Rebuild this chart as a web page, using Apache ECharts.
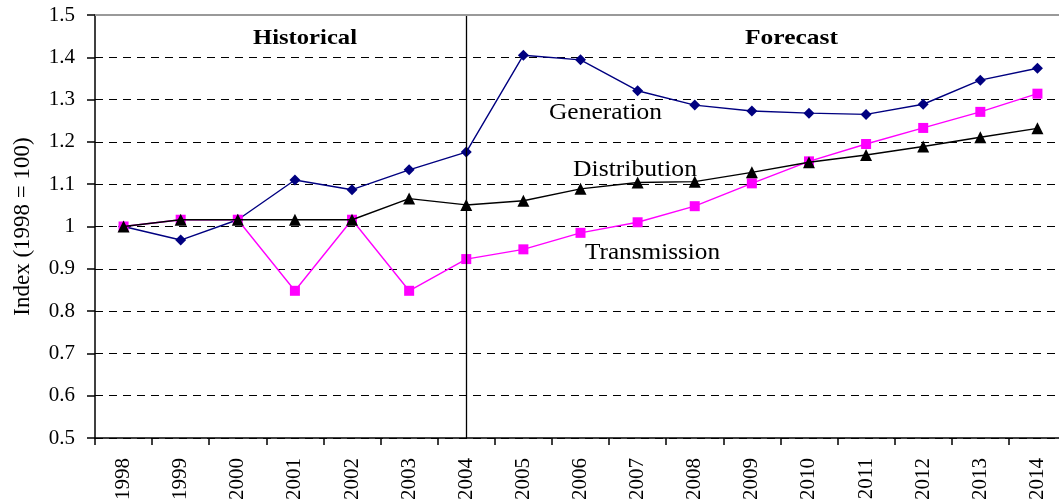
<!DOCTYPE html>
<html><head><meta charset="utf-8">
<script src="https://cdn.jsdelivr.net/npm/echarts@6/dist/echarts.min.js"></script>
<style>html,body{margin:0;padding:0;background:#fff}#c{width:1059px;height:504px}</style>
</head><body><div id="c"></div>
<script>
var years = ['1998','1999','2000','2001','2002','2003','2004','2005','2006','2007','2008','2009','2010','2011','2012','2013','2014'];
var generation   = [1.000,0.968,1.016,1.110,1.087,1.134,1.176,1.405,1.394,1.321,1.287,1.273,1.268,1.265,1.289,1.346,1.374];
var transmission = [1.000,1.016,1.016,0.848,1.016,0.848,0.923,0.946,0.985,1.010,1.048,1.102,1.154,1.195,1.233,1.271,1.314];
var distribution = [1.000,1.016,1.016,1.016,1.016,1.066,1.051,1.061,1.089,1.104,1.106,1.128,1.152,1.169,1.189,1.211,1.232];
var yTicks = ['0.5','0.6','0.7','0.8','0.9','1','1.1','1.2','1.3','1.4','1.5'];
var divider = '2004';

var serif = 'Liberation Serif';
var mctx = document.createElement('canvas').getContext('2d');
function stretchedText(txt, font, x, midY, width){
  mctx.font = font;
  var w = mctx.measureText(txt).width;
  return {type:'text', x:x, y:midY, scaleX:width/w, z:100,
    style:{text:txt, font:font, fill:'#000', textAlign:'left', textVerticalAlign:'middle', verticalAlign:'middle'}};
}
var chart = echarts.init(document.getElementById('c'), null, {renderer:'canvas'});
chart.setOption({
  animation:false,
  backgroundColor:'#fff',
  grid:{left:95, top:15, right:-7, bottom:66, containLabel:false, outerBoundsMode:'none'},
  xAxis:{
    type:'category', data:years, boundaryGap:true,
    axisLine:{lineStyle:{color:'#000', width:1.5}},
    axisTick:{show:true, length:7, inside:false, alignWithLabel:false, lineStyle:{color:'#000', width:1.5}},
    axisLabel:{rotate:90, margin:20, fontFamily:serif, fontSize:21, color:'#000', interval:0},
    splitLine:{show:false}
  },
  yAxis:{
    type:'value', min:0.5, max:1.5, interval:0.1,
    name:'Index (1998 = 100)', nameLocation:'middle', nameGap:61, nameRotate:90,
    nameTextStyle:{fontFamily:serif, fontSize:23, color:'#000'},
    axisLine:{show:true, lineStyle:{color:'#000', width:1.5}},
    axisTick:{show:true, length:8, lineStyle:{color:'#000', width:1.5}},
    axisLabel:{margin:20, fontFamily:serif, fontSize:21, color:'#000',
      formatter:function(v){ var i=Math.round((v-0.5)*10); return yTicks[i]; }},
    splitLine:{show:true, lineStyle:{color:'#000', width:1, type:[8,6]}}
  },
  series:[
    {name:'Generation', type:'line', data:generation, symbol:'diamond', symbolSize:11,
     itemStyle:{color:'#000080'}, lineStyle:{color:'#000080', width:1.4}, z:3,
     markLine:{silent:true, symbol:'none', label:{show:false},
       data:[{xAxis:divider, lineStyle:{color:'#000', width:1.3, type:'solid'}},
             {yAxis:1.5, lineStyle:{color:'#999', width:2, type:'solid'}}]}},
    {name:'Transmission', type:'line', data:transmission, symbol:'rect', symbolSize:10,
     itemStyle:{color:'#ff00ff'}, lineStyle:{color:'#ff00ff', width:1.4}, z:4},
    {name:'Distribution', type:'line', data:distribution, symbol:'triangle', symbolSize:12,
     itemStyle:{color:'#000'}, lineStyle:{color:'#000', width:1.4}, z:5}
  ],
  graphic:[
    stretchedText('Historical', 'bold 21px "Liberation Serif"', 253, 39, 104),
    stretchedText('Forecast', 'bold 21px "Liberation Serif"', 745, 39, 93),
    stretchedText('Generation', '23px "Liberation Serif"', 549, 113, 113),
    stretchedText('Distribution', '23px "Liberation Serif"', 573, 170, 124),
    stretchedText('Transmission', '23px "Liberation Serif"', 585, 253, 135)
  ]
});
</script></body></html>
